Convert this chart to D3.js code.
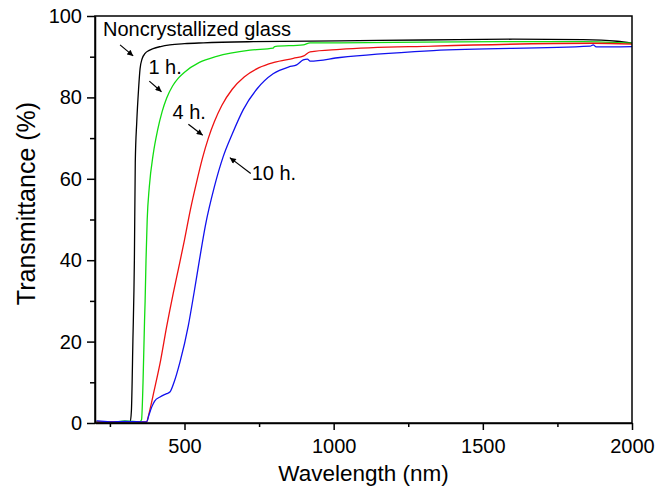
<!DOCTYPE html>
<html>
<head>
<meta charset="utf-8">
<script src="https://cdn.jsdelivr.net/npm/d3@7"></script>
<style>
  body { margin: 0; background: #fff; }
  text { font-family: "Liberation Sans", Arial, sans-serif; fill: #000; }
</style>
</head>
<body>
<svg id="plot"></svg>
<script>
// wavelength (nm) and transmittance (%)
var glassX = [205, 250, 300, 318, 322, 327, 332, 335, 340, 346, 351, 358, 368, 380, 395, 420, 451, 500, 563, 731, 1021, 1300, 1601, 1836, 1950, 2000];
var glassY = [0.3, 0.2, 0.3, 0.3, 3, 20, 40, 64, 74, 82, 87, 89.5, 90.8, 91.5, 92, 92.5, 92.9, 93.2, 93.4, 93.7, 93.9, 94.1, 94.3, 94.2, 93.8, 93.3];

var h1X = [205, 260, 300, 350, 356, 361, 366, 368, 371, 375, 382, 395, 410, 425, 440, 460, 480, 500, 550, 608, 720, 797, 802, 898, 921, 1021, 1558, 1836, 2000];
var h1Y = [0.4, 0.2, 0.5, 0.3, 0.8, 10, 25, 30, 40, 50, 58, 66, 72, 76.5, 79.8, 82.8, 84.8, 86.2, 88.6, 90.1, 91.6, 92.1, 92.5, 92.9, 93.4, 93.4, 93.7, 93.7, 93.3];

var h4X = [205, 300, 373, 380, 388, 396, 420, 440, 462, 480, 500, 520, 540, 560, 580, 600, 625, 660, 700, 750, 800, 865, 900, 921, 1021, 1334, 1870, 2000];
var h4Y = [0.3, 0.3, 0.3, 2, 4.5, 7.2, 15.4, 23.6, 31.8, 38, 45, 52.5, 59, 65, 70, 74, 78, 82, 85, 87.3, 88.6, 89.6, 90.2, 91.2, 91.8, 92.6, 93.3, 93.1];

var h10X = [205, 250, 300, 373, 381, 390, 400, 418, 440, 451, 465, 485, 513, 532, 550, 570, 600, 630, 660, 697, 742, 797, 850, 876, 898, 912, 921, 1021, 1334, 1860, 1870, 1880, 2000];
var h10Y = [0.5, 0.3, 0.4, 0.3, 2, 3.9, 5.4, 6.4, 7.2, 7.6, 10, 15, 24, 32, 40, 48.5, 58, 65.5, 71, 77, 82, 85.8, 87.5, 88, 89.2, 89.4, 88.9, 89.8, 91.5, 92.6, 92.9, 92.4, 92.5];

var seriesNames = ["Noncrystallized glass", "1 h.", "4 h.", "10 h."];
var seriesColors = ["#000000", "#11dd11", "#ee1111", "#1111ee"];

var xTicks = [500, 1000, 1500, 2000];
var xMinor = [250, 750, 1250, 1750];
var yTicks = [0, 20, 40, 60, 80, 100];
var yMinor = [10, 30, 50, 70, 90];

// label anchor and arrow (from -> to), in data units
var noteText = [[227, 95.1], [379, 85.7], [460, 74.8], [725, 59.8]];
var noteArrow = [[284, 92.9, 328, 90.2], [382, 84.0, 423, 81.4], [513, 73.4, 561, 70.7], [722, 61.3, 652, 65.2]];

var W = 667, H = 491;
var margin = {top: 16, right: 35, bottom: 68, left: 95},
  width = W - margin.left - margin.right,
  height = H - margin.top - margin.bottom;

var svg = d3.select("#plot").attr("width", W).attr("height", H);

var g = svg.append("g")
  .attr("transform", "translate(" + margin.left + "," + margin.top + ")");

var x = d3.scaleLinear().domain([200, 2000]).range([0, width]);
var y = d3.scaleLinear().domain([0, 100]).range([height, 0]);

// curves
var seriesX = [glassX, h1X, h4X, h10X];
var seriesY = [glassY, h1Y, h4Y, h10Y];
var line = d3.line()
  .x(function(d) { return x(d[0]); })
  .y(function(d) { return y(d[1]); })
  .curve(d3.curveMonotoneX);

seriesX.forEach(function(xs, i) {
  var pts = xs.map(function(v, j) { return [v, seriesY[i][j]]; });
  g.append("path")
    .datum(pts)
    .attr("fill", "none")
    .attr("stroke", seriesColors[i])
    .attr("stroke-width", 1.3)
    .attr("d", line);
});

// frame
g.append("rect")
  .attr("width", width).attr("height", height)
  .attr("fill", "none").attr("stroke", "#000").attr("stroke-width", 1.5);

// x axis
g.append("g")
  .attr("transform", "translate(0," + height + ")")
  .call(d3.axisBottom(x).tickValues(xTicks).tickFormat(d3.format("d"))
    .tickSize(7).tickSizeOuter(0).tickPadding(9));
g.append("g")
  .attr("transform", "translate(0," + height + ")")
  .call(d3.axisBottom(x).tickValues(xMinor).tickSize(4).tickFormat(""))
  .select(".domain").remove();

// y axis
g.append("g")
  .call(d3.axisLeft(y).tickValues(yTicks).tickFormat(d3.format("d"))
    .tickSize(8).tickSizeOuter(0).tickPadding(5));
g.append("g")
  .call(d3.axisLeft(y).tickValues(yMinor).tickSize(5).tickFormat(""))
  .select(".domain").remove();

g.selectAll(".tick line").attr("stroke-width", 1.5);
g.selectAll(".domain").attr("stroke-width", 1.5);
g.selectAll(".tick text").attr("font-size", 20).attr("font-family", "Liberation Sans, Arial, sans-serif");

// axis titles
svg.append("text")
  .attr("x", margin.left + width / 2).attr("y", 481)
  .attr("text-anchor", "middle").attr("font-size", 22.5)
  .text("Wavelength (nm)");
svg.append("text")
  .attr("transform", "translate(35," + (margin.top + height / 2 - 16) + ") rotate(-90)")
  .attr("text-anchor", "middle").attr("font-size", 25)
  .text("Transmittance (%)");

// annotations
svg.append("defs").append("marker")
  .attr("id", "arrow")
  .attr("viewBox", "0 0 10 10")
  .attr("refX", 10).attr("refY", 5)
  .attr("markerWidth", 7).attr("markerHeight", 6)
  .attr("markerUnits", "userSpaceOnUse")
  .attr("orient", "auto")
  .append("path").attr("d", "M0,0L10,5L0,10z").attr("fill", "#000");

seriesNames.forEach(function(name, i) {
  g.append("text")
    .attr("x", x(noteText[i][0])).attr("y", y(noteText[i][1]))
    .attr("font-size", 20)
    .text(name);
  var a = noteArrow[i];
  g.append("line")
    .attr("x1", x(a[0])).attr("y1", y(a[1]))
    .attr("x2", x(a[2])).attr("y2", y(a[3]))
    .attr("stroke", "#000").attr("stroke-width", 1.2)
    .attr("marker-end", "url(#arrow)");
});
</script>
</body>
</html>
